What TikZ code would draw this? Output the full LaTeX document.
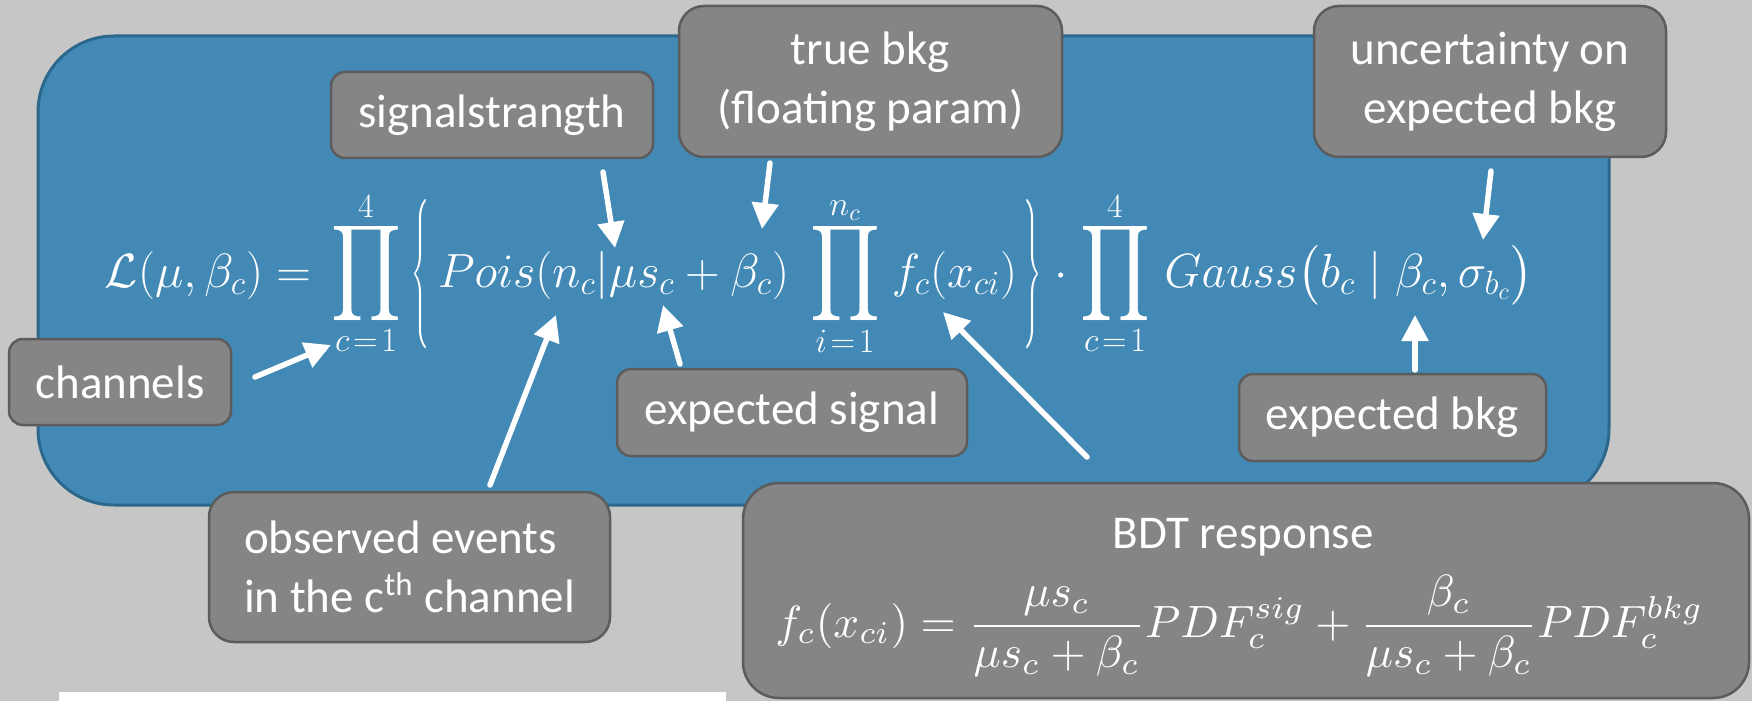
\RequirePackage{fix-cm}
\documentclass[tikz,border=0pt]{standalone}
\usepackage{amsmath}
\usepackage{graphicx}
\usepackage{fontspec}
\setmainfont{Carlito}
\usetikzlibrary{arrows.meta}
\definecolor{bgc}{RGB}{198,198,198}
\definecolor{bluef}{RGB}{66,137,182}
\definecolor{blued}{RGB}{44,104,140}
\definecolor{boxf}{RGB}{133,133,133}
\definecolor{boxd}{RGB}{92,92,92}
\newcommand{\bigprodsym}{\scalebox{1.1}[1.35]{$\displaystyle\prod$}}
\newcommand{\tallbrace}[1]{\scalebox{0.45}[1]{$\left#1\vcenter to 71pt{\vfil}\right.$}}
\tikzset{
  lbl/.style={draw=boxd, fill=boxf, line width=1.25pt, text=white, inner sep=0pt,
    align=center, font=\fontsize{23.5}{29.5}\selectfont},
  arr/.style={draw=white, line width=2.75pt, line cap=round,
    -{Triangle[length=13pt,width=13pt]}},
  eqtext/.style={text=white, inner sep=0pt},
  eqp/.style={text=white, inner sep=0pt, font=\fontsize{24}{29}\selectfont},
  lim/.style={text=white, inner sep=0pt, font=\fontsize{17}{19}\selectfont},
}
\begin{document}
\begin{tikzpicture}[x=0.5pt,y=-0.5pt]
\useasboundingbox (0,0) rectangle (1752,701);
\fill[bgc] (0,0) rectangle (1752,701);
\fill[white] (59,692) rectangle (726,701);
% main panel
\node[draw=blued, fill=bluef, line width=1.5pt, rounded corners=38pt,
  minimum width=785.5pt, minimum height=234.5pt, inner sep=0pt] (panel) at (823.5,270.5) {};
% equation, piece by piece
\node[eqp, anchor=base] (lhs) at (208,287) {$\mathcal{L}(\mu,\beta_c) =$};
\node[eqp] (pr1) at (366,274) {\bigprodsym};
\node[lim] (u1) at (366,207) {$4$};
\node[lim] (l1) at (366,341) {$c\!=\!1$};
\node[eqp] (lbr) at (421,274) {\tallbrace\{};
\node[eqp, anchor=base] (pois) at (613.5,287) {$Pois(n_c|\mu s_c+\beta_c)$};
\node[eqp] (pr2) at (845,274) {\bigprodsym};
\node[lim] (u2) at (845,211) {$n_c$};
\node[lim] (l2) at (845,341) {$i\!=\!1$};
\node[eqp, anchor=base] (fc) at (954.5,287) {$f_c(x_{ci})$};
\node[eqp] (rbr) at (1033,274) {\tallbrace\}};
\node[eqp, anchor=base] (dot) at (1061,287) {$\cdot$};
\node[eqp] (pr3) at (1115,274) {\bigprodsym};
\node[lim] (u3) at (1115,207) {$4$};
\node[lim] (l3) at (1115,341) {$c\!=\!1$};
\node[eqp, anchor=base] (gauss) at (1349,287) {$Gauss\bigl(b_c \mid \beta_c,\sigma_{b_c}\bigr)$};
% labels
\node[lbl, minimum width=161pt, minimum height=43pt, rounded corners=7pt] (sig) at (492,115) {signalstrangth};
\node[lbl, minimum width=191.5pt, minimum height=75.5pt, rounded corners=12.5pt] (tbkg) at (870.5,81.5) {true bkg\\(floating param)};
\node[lbl, minimum width=176pt, minimum height=75.5pt, rounded corners=12.5pt] (unc) at (1490,81.5) {uncertainty on\\expected bkg};
\node[lbl, minimum width=111pt, minimum height=43pt, rounded corners=7pt] (chan) at (120,382) {channels};
\node[lbl, minimum width=175pt, minimum height=43.5pt, rounded corners=7pt] (esig) at (792,412.5) {expected signal};
\node[lbl, minimum width=153.5pt, minimum height=43.5pt, rounded corners=7pt] (ebkg) at (1392.5,417.5) {expected bkg};
\node[lbl, minimum width=200.5pt, minimum height=75pt, rounded corners=12.5pt, align=left] (obs) at (409.5,567) {observed events\\in the c\textsuperscript{th} channel};
\node[lbl, minimum width=503pt, minimum height=107.5pt, rounded corners=18pt] (bdt) at (1246,590.5) {};
\node[text=white, inner sep=0pt, anchor=base, font=\fontsize{23.5}{29.5}\selectfont] (bdtt) at (1243,548) {BDT response};
\node[eqtext, anchor=base west] (bdteq) at (775,637) {\resizebox{464pt}{!}{$\displaystyle
  f_c(x_{ci}) = \frac{\mu s_c}{\mu s_c+\beta_c}PDF_c^{sig} + \frac{\beta_c}{\mu s_c+\beta_c}PDF_c^{bkg}$}};
% arrow end points
\coordinate (s1) at (603,172); \coordinate (t1) at (615,248);
\coordinate (s2) at (770,163); \coordinate (t2) at (762,229);
\coordinate (s3) at (1491,171); \coordinate (t3) at (1483,240);
\coordinate (s4) at (255,377); \coordinate (t4) at (331,345);
\coordinate (s5) at (490,485); \coordinate (t5) at (556,315);
\coordinate (s6) at (680,364); \coordinate (t6) at (663,305);
\coordinate (s7) at (1087,457); \coordinate (t7) at (943,312);
\coordinate (s8) at (1415,370); \coordinate (t8) at (1415,315);
\draw[arr] (s1) -- (t1);
\draw[arr] (s2) -- (t2);
\draw[arr] (s3) -- (t3);
\draw[arr] (s4) -- (t4);
\draw[arr] (s5) -- (t5);
\draw[arr] (s6) -- (t6);
\draw[arr] (s7) -- (t7);
\draw[arr] (s8) -- (t8);
\end{tikzpicture}
\end{document}
